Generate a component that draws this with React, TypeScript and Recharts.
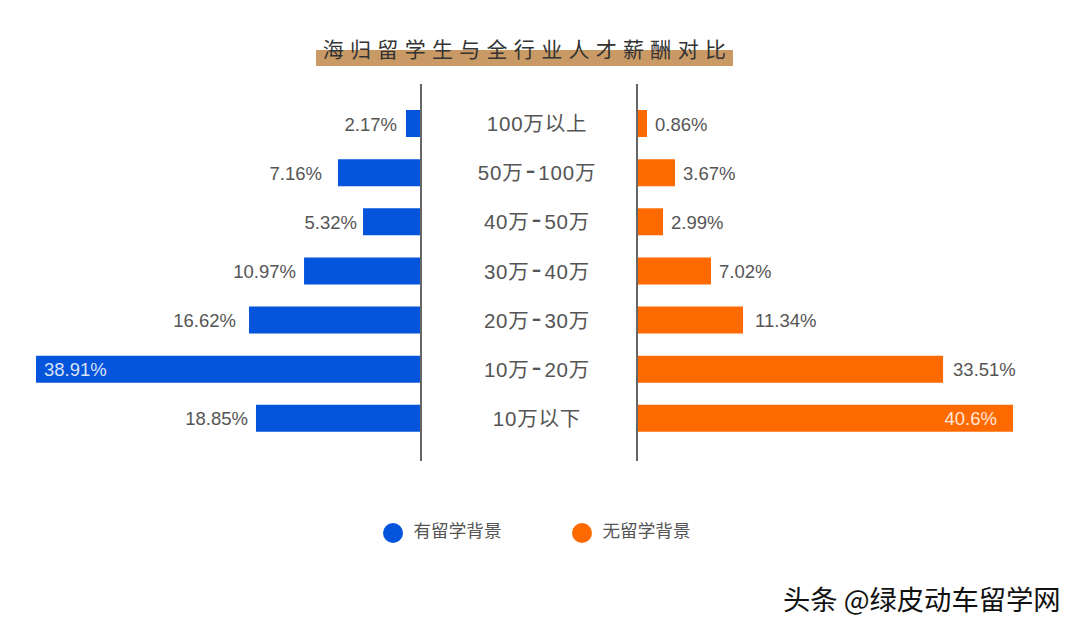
import React from "react";
import { BarChart, Bar, XAxis, YAxis, LabelList, Legend } from "recharts";

const categories = ["100万以上", "50万-100万", "40万-50万", "30万-40万", "20万-30万", "10万-20万", "10万以下"];
// Printed labels
const abroadLabels = ["2.17%", "7.16%", "5.32%", "10.97%", "16.62%", "38.91%", "18.85%"];
const localLabels = ["0.86%", "3.67%", "2.99%", "7.02%", "11.34%", "33.51%", "40.6%"];
// Bar lengths as drawn in the picture (they do not follow the printed numbers exactly)
const abroadDrawn = [1.52, 8.39, 5.86, 11.82, 17.38, 38.91, 16.68];
const localDrawn = [1.08, 4.1, 2.81, 7.99, 11.45, 33.05, 40.6];

const abroadData = categories.map((c, i) => ({ c, v: abroadDrawn[i], label: abroadLabels[i] }));
const localData = categories.map((c, i) => ({ c, v: localDrawn[i], label: localLabels[i] }));

const FONT = '"Liberation Sans","Noto Sans CJK SC",sans-serif';
const INK = "#555";
const BLUE = "#0455DC";
const ORANGE = "#FF6A00";
const AXIS = "#666";

const W = 1080;
const H = 631;
const TOP = 84;
const BOTTOM = 170;

// Label-to-bar gaps, which vary in the reference
const abroadGaps = [9, 16, 6, 8, 13, 8, 8];
const localGaps = [8, 8, 8, 8, 12, 10, 16];

const layer: React.CSSProperties = { position: "absolute", left: 0, top: 0 };

const legendText = (value: string) => (
  <span style={{ color: INK, fontSize: 17.6, fontFamily: FONT, marginLeft: 7 }}>{value}</span>
);

const valueLabel = (side: "left" | "right", labels: string[], gaps: number[]) => (p: any) => {
  const left = Math.min(p.x, p.x + p.width);
  const right = Math.max(p.x, p.x + p.width);
  const y = p.y + p.height / 2 + 0.5;
  const inside = Math.abs(p.width) > 370;
  const gap = gaps[p.index];
  let x: number, anchor: "start" | "end";
  if (side === "left") {
    x = inside ? left + gap : left - gap;
    anchor = inside ? "start" : "end";
  } else {
    x = inside ? right - gap : right + gap;
    anchor = inside ? "end" : "start";
  }
  return (
    <text x={x} y={y} textAnchor={anchor} dominantBaseline="central" fontSize={18.5} fontFamily={FONT}
      fill={inside ? "#fff" : INK} fillOpacity={inside ? 0.85 : 1}>
      {labels[p.index]}
    </text>
  );
};

const CategoryTick = (p: any) => {
  const parts = String(p.payload.value).split("-");
  return (
    <text x={537} y={p.y + 7.5} textAnchor="middle" fontSize={20.5} letterSpacing={0.8} fontFamily={FONT} fill={INK}>
      {parts.length === 2 ? (
        <>
          <tspan>{parts[0]}</tspan>
          <tspan dx={2} fontSize={30}>-</tspan>
          <tspan dx={2}>{parts[1]}</tspan>
        </>
      ) : (
        parts[0]
      )}
    </text>
  );
};

const bandPadding = { top: 15, bottom: 18 };

export default function App() {
  return (
    <div style={{ position: "absolute", left: 0, top: 0, width: W, height: H, background: "#fff", overflow: "hidden" }}>
      <div style={{ position: "absolute", left: 316, top: 50, width: 417, height: 16, background: "#C99A66" }} />
      <div style={{ position: "absolute", left: 316, top: 35, width: 417, textAlign: "center", fontFamily: FONT,
        fontSize: 21, letterSpacing: 6.3, lineHeight: "30px", color: "#333", whiteSpace: "nowrap", textIndent: 6 }}>
        海归留学生与全行业人才薪酬对比
      </div>

      <div style={layer}>
        <BarChart width={W} height={H} data={abroadData} layout="vertical"
          margin={{ top: TOP, bottom: BOTTOM, left: 36, right: 443 }}>
          <XAxis type="number" domain={[0, 38.91]} reversed hide />
          <YAxis type="category" dataKey="c" orientation="right" width={216} tickLine={false} interval={0}
            axisLine={{ stroke: AXIS, strokeWidth: 2 }} tick={CategoryTick} padding={bandPadding} />
          <Bar dataKey="v" name="有留学背景" fill={BLUE} barSize={27} isAnimationActive={false}>
            <LabelList dataKey="label" content={valueLabel("left", abroadLabels, abroadGaps)} />
          </Bar>
          <Legend layout="horizontal" verticalAlign="middle" align="center" iconType="circle" iconSize={20}
            formatter={legendText}
            wrapperStyle={{ left: 377, top: 519, bottom: "auto", width: 140, margin: 0, padding: 0, lineHeight: "24px" }} />
        </BarChart>
      </div>

      <div style={layer}>
        <BarChart width={W} height={H} data={localData} layout="vertical"
          margin={{ top: TOP, bottom: BOTTOM, left: 617, right: 67 }}>
          <XAxis type="number" domain={[0, 40.6]} hide />
          <YAxis type="category" dataKey="c" width={20} tick={false} tickLine={false} interval={0}
            axisLine={{ stroke: AXIS, strokeWidth: 2 }} padding={bandPadding} />
          <Bar dataKey="v" name="无留学背景" fill={ORANGE} barSize={27} isAnimationActive={false}>
            <LabelList dataKey="label" content={valueLabel("right", localLabels, localGaps)} />
          </Bar>
          <Legend layout="horizontal" verticalAlign="middle" align="center" iconType="circle" iconSize={20}
            formatter={legendText}
            wrapperStyle={{ left: 566, top: 519, bottom: "auto", width: 140, margin: 0, padding: 0, lineHeight: "24px" }} />
        </BarChart>
      </div>

      <div style={{ position: "absolute", left: 783, top: 581, fontFamily: '"Noto Sans CJK SC",sans-serif', fontSize: 27.3,
        lineHeight: "34px", color: "#111", whiteSpace: "nowrap", textShadow: "1px 1px 0 #fff, -1px -1px 0 #fff" }}>
        头条 @绿皮动车留学网
      </div>
    </div>
  );
}
